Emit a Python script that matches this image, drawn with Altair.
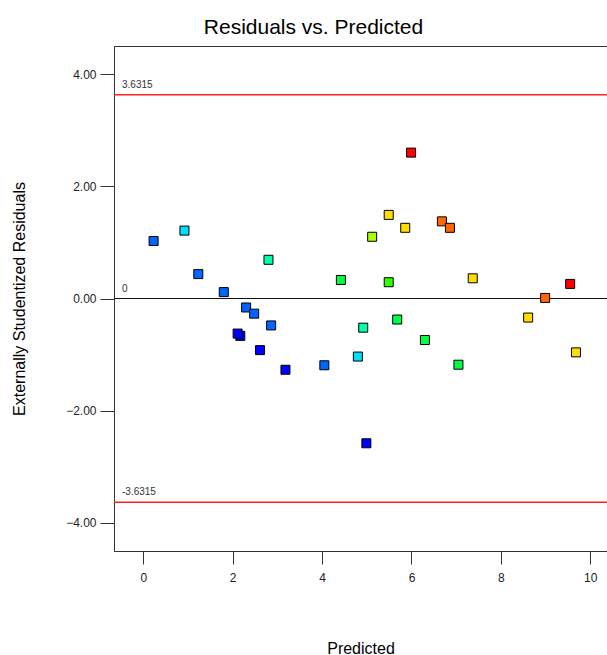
import altair as alt
import pandas as pd

# Predicted values (x), externally studentized residuals (y), colour level per run
predicted = [0.23, 0.92, 1.23, 1.80, 2.80, 2.30, 2.48, 2.86, 2.17, 2.11,
             2.61, 3.18, 4.05, 4.80, 4.42, 4.92, 5.12, 5.49, 5.49, 5.68,
             5.86, 5.99, 6.30, 6.68, 6.86, 7.05, 7.37, 4.99, 8.61, 8.99,
             9.55, 9.68]
residuals = [1.025, 1.21, 0.435, 0.114, 0.69, -0.16, -0.27, -0.48, -0.666, -0.625,
             -0.92, -1.27, -1.19, -1.035, 0.33, -0.52, 1.10, 1.49, 0.29, -0.375,
             1.26, 2.60, -0.74, 1.375, 1.26, -1.18, 0.36, -2.58, -0.34, 0.01,
             0.26, -0.96]
levels = [1, 2, 1, 1, 3, 1, 1, 1, 0, 0,
          0, 0, 1, 2, 4, 3, 6, 7, 5, 4,
          7, 9, 4, 8, 8, 4, 7, 0, 7, 8,
          9, 7]

level_domain = [0, 1, 2, 3, 4, 5, 6, 7, 8, 9]
level_colors = ["#0000FF", "#0066FF", "#00DDFF", "#00FFAA", "#00FF44",
                "#33FF00", "#AAFF00", "#FFDD00", "#FF6600", "#FF0000"]

limit_values = [3.6315, -3.6315]
limit_labels = ["3.6315", "-3.6315"]
zero_values = [0]
zero_labels = ["0"]

x_ticks = [0, 2, 4, 6, 8, 10]
y_ticks = [-4, -2, 0, 2, 4]

pts = pd.DataFrame({"Predicted": predicted, "Residual": residuals,
                    "level": levels, "order": list(range(len(predicted)))})
limits = pd.DataFrame({"v": limit_values, "label": limit_labels})
zero = pd.DataFrame({"v": zero_values, "label": zero_labels})
refs = pd.concat([limits, zero], ignore_index=True)

FONT = "Liberation Sans"

xscale = alt.Scale(domain=[-0.656, 10.374], nice=False, zero=False)
yscale = alt.Scale(domain=[-4.5, 4.5], nice=False, zero=False)

points = alt.Chart(pts).mark_point(
    shape="square", filled=True, size=81, stroke="black", strokeWidth=1, opacity=1
).encode(
    x=alt.X("Predicted:Q", scale=xscale,
            axis=alt.Axis(values=x_ticks, title="Predicted", grid=False,
                          tickSize=13, labelPadding=8, labelFontSize=12,
                          titleFontSize=16, titleFontWeight="normal",
                          titlePadding=57, labelFont=FONT, titleFont=FONT,
                          domainColor="#333", tickColor="#333",
                          labelColor="#222", titleColor="#000")),
    y=alt.Y("Residual:Q", scale=yscale,
            axis=alt.Axis(values=y_ticks, format=".2f",
                          title="Externally Studentized Residuals", grid=False,
                          tickSize=14, labelPadding=4, labelFontSize=12,
                          titleFontSize=16, titleFontWeight="normal",
                          titlePadding=38, labelFont=FONT, titleFont=FONT,
                          domainColor="#333", tickColor="#333",
                          labelColor="#222", titleColor="#000")),
    fill=alt.Fill("level:O", scale=alt.Scale(domain=level_domain, range=level_colors),
                  legend=None),
    order=alt.Order("order:Q"),
)

red_lines = alt.Chart(limits).mark_rule(color="#FF2020", strokeWidth=1.4).encode(
    y=alt.Y("v:Q", scale=yscale)
)
zero_line = alt.Chart(zero).mark_rule(color="#111", strokeWidth=1.2).encode(
    y=alt.Y("v:Q", scale=yscale)
)
ref_text = alt.Chart(refs).mark_text(
    align="left", baseline="bottom", dy=-5, fontSize=10, font=FONT, color="#333"
).encode(
    x=alt.value(8),
    y=alt.Y("v:Q", scale=yscale),
    text="label:N",
)

chart = alt.layer(red_lines, zero_line, ref_text, points).properties(
    width=493, height=505,
    title=alt.Title("Residuals vs. Predicted", fontSize=21, font=FONT,
                    fontWeight="normal", anchor="middle", dx=-47, offset=8,
                    color="#000"),
    autosize=alt.AutoSizeParams(type="none"),
    padding={"left": 114, "top": 46, "right": 0, "bottom": 104},
).configure_view(stroke="#333", strokeWidth=1)

chart.save("out.html", embed_options={"renderer": "svg", "actions": False})
